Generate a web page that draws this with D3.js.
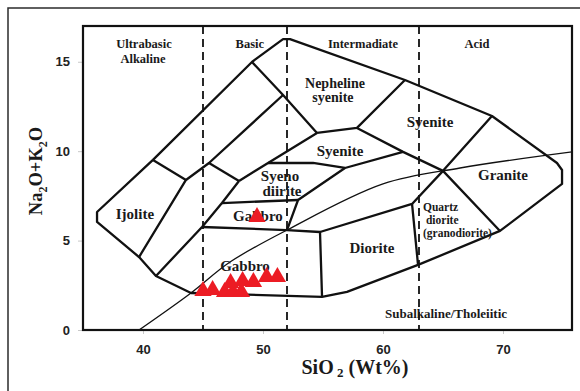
<!DOCTYPE html>
<html>
<head>
<meta charset="utf-8">
<script src="https://cdn.jsdelivr.net/npm/d3@7"></script>
<style>
  body { margin: 0; background: #fff; }
  .tick text { font-family: "Liberation Sans", Arial, sans-serif; font-weight: bold; font-size: 13px; fill: #222; }
  .tick line { stroke: #c8c8c8; }
  .lbl { font-family: "Liberation Serif", "Times New Roman", serif; font-weight: bold; fill: #1a1a1a; }
</style>
</head>
<body>
<svg id="chart" width="580" height="391"></svg>
<script>
// samples: SiO2 (wt%) and Na2O+K2O (wt%)
const sampleSiO2 = [45.0, 45.8, 46.8, 47.5, 48.2, 47.3, 48.3, 49.2, 50.3, 51.2, 49.5]
const sampleAlk  = [2.18, 2.24, 2.13, 2.13, 2.13, 2.63, 2.74, 2.68, 2.96, 2.96, 6.32]

const xTicks = [40, 50, 60, 70]
const yTicks = [0, 5, 10, 15]
const silicaDivisions = [45, 52, 63]

// outer outline of the classification fields [SiO2, alkalis]
const fieldOutline = [
  [51.67, 16.27], [52.25, 16.27], [61.83, 13.98], [69.08, 11.97], [74.5, 9.34],
  [74.92, 8.95], [74.92, 8.17], [69.75, 5.54], [62.92, 3.64], [57.0, 2.13],
  [54.92, 1.85], [44.0, 2.07], [41.08, 3.02], [39.67, 4.08], [36.17, 6.04],
  [36.17, 6.6], [40.83, 9.51], [49.08, 14.99]
]

// inner field boundaries
const fieldBoundaries = [
  [[40.83, 9.51], [43.58, 8.39], [39.67, 4.08]],
  [[43.58, 8.39], [45.5, 9.34], [51.67, 13.14]],
  [[45.5, 9.34], [48.0, 8.33]],
  [[48.0, 8.33], [46.58, 7.1], [44.92, 5.76], [41.08, 3.02]],
  [[48.0, 8.33], [50.42, 9.34], [54.5, 11.02]],
  [[49.08, 14.99], [51.67, 13.14], [54.5, 11.02]],
  [[54.5, 11.02], [57.83, 11.3], [61.83, 13.98]],
  [[57.83, 11.3], [61.67, 9.96], [65.0, 8.9], [69.75, 5.54]],
  [[50.42, 9.34], [54.17, 9.34], [56.83, 9.06], [61.67, 9.96]],
  [[56.83, 9.06], [52.92, 7.27], [52.0, 5.59]],
  [[46.58, 7.1], [52.92, 7.27]],
  [[44.92, 5.76], [52.0, 5.59], [54.75, 5.48], [54.92, 1.85]],
  [[54.75, 5.48], [62.42, 7.05], [65.0, 8.9], [69.08, 11.97]],
  [[62.42, 7.05], [62.92, 3.64]]
]

// alkaline / subalkaline divide
const alkalineLine = [[39.67, 0], [44.0, 2.07], [47.25, 3.8], [52.0, 5.59], [60.0, 8.17], [66.42, 9.06], [75.75, 9.96]]

const groupNames = ['Ultrabasic', 'Alkaline', 'Basic', 'Intermadiate', 'Acid']
const groupSiO2  = [40.08, 40.0, 48.9, 58.33, 67.83]
const groupAlk   = [15.76, 14.93, 15.76, 15.76, 15.76]

const fieldNames = ['Nepheline', 'syenite', 'Syenite', 'Syenite', 'Granite', 'Syeno', 'diirite', 'Gabbro', 'Ijolite', 'Gabbro', 'Diorite']
const fieldSiO2  = [56.0, 55.83, 63.92, 56.42, 70.0, 51.42, 51.58, 49.58, 39.33, 48.5, 59.08]
const fieldAlk   = [13.53, 12.75, 11.35, 9.73, 8.39, 8.33, 7.49, 6.1, 6.21, 3.3, 4.31]

const qdNames = ['Quartz', 'diorite', '(granodiorite)']
const qdSiO2  = [63.33, 63.58, 63.33]
const qdAlk   = [6.66, 5.93, 5.2]

const svg = d3.select('#chart')

const x = d3.scaleLinear().domain([35, 75.75]).range([83, 572])
const y = d3.scaleLinear().domain([0, 17]).range([330, 26])

// outer border
svg.append('rect')
  .attr('x', 8).attr('y', 8).attr('width', 620).attr('height', 420)
  .attr('fill', 'none').attr('stroke', '#2b2b2b').attr('stroke-width', 1.5)

svg.append('clipPath').attr('id', 'plotclip')
  .append('rect')
    .attr('x', x(35)).attr('y', y(17))
    .attr('width', x(75.75) - x(35)).attr('height', y(0) - y(17))

// axes
const yAxis = d3.axisLeft(y).tickValues(yTicks).tickSize(5).tickPadding(8)
const xAxis = d3.axisBottom(x).tickValues(xTicks).tickSize(4).tickPadding(11)

svg.append('g')
  .attr('transform', `translate(${x(35)}, 0)`)
  .call(yAxis)
  .call(g => g.select('.domain').remove())

svg.append('g')
  .attr('transform', `translate(0, ${y(0)})`)
  .call(xAxis)
  .call(g => g.select('.domain').remove())

const plot = svg.append('g').attr('clip-path', 'url(#plotclip)')

// silica divisions
plot.selectAll('.division')
  .data(silicaDivisions)
  .join('line')
    .attr('class', 'division')
    .attr('x1', d => x(d)).attr('x2', d => x(d))
    .attr('y1', y(17)).attr('y2', y(0))
    .attr('stroke', '#111').attr('stroke-width', 1.8)
    .attr('stroke-dasharray', '8,5')

const line = d3.line().x(d => x(d[0])).y(d => y(d[1]))

plot.append('path')
  .attr('d', d3.line().x(d => x(d[0])).y(d => y(d[1])).curve(d3.curveCatmullRom)(alkalineLine))
  .attr('fill', 'none').attr('stroke', '#111').attr('stroke-width', 1.3)

plot.append('path')
  .attr('d', line(fieldOutline) + 'Z')
  .attr('fill', 'none').attr('stroke', '#111').attr('stroke-width', 2.3)
  .attr('stroke-linejoin', 'round')

plot.selectAll('.boundary')
  .data(fieldBoundaries)
  .join('path')
    .attr('class', 'boundary')
    .attr('d', d => line(d))
    .attr('fill', 'none').attr('stroke', '#111').attr('stroke-width', 2.3)
    .attr('stroke-linejoin', 'round')

// plot frame
svg.append('rect')
  .attr('x', x(35)).attr('y', y(17))
  .attr('width', x(75.75) - x(35)).attr('height', y(0) - y(17))
  .attr('fill', 'none').attr('stroke', '#111').attr('stroke-width', 2.2)

// labels
svg.selectAll('.group-label')
  .data(groupNames)
  .join('text')
    .attr('class', 'lbl group-label')
    .attr('x', (d, i) => x(groupSiO2[i])).attr('y', (d, i) => y(groupAlk[i]))
    .attr('text-anchor', 'middle').attr('font-size', 12.5)
    .text(d => d)

svg.selectAll('.field-label')
  .data(fieldNames)
  .join('text')
    .attr('class', 'lbl field-label')
    .attr('x', (d, i) => x(fieldSiO2[i])).attr('y', (d, i) => y(fieldAlk[i]))
    .attr('text-anchor', 'middle').attr('font-size', (d, i) => i < 2 ? 14 : 15)
    .text(d => d)

svg.selectAll('.qd-label')
  .data(qdNames)
  .join('text')
    .attr('class', 'lbl qd-label')
    .attr('x', (d, i) => x(qdSiO2[i])).attr('y', (d, i) => y(qdAlk[i]))
    .attr('text-anchor', 'start').attr('font-size', 11.5)
    .text(d => d)

svg.append('text')
  .attr('class', 'lbl')
  .attr('x', x(65.25)).attr('y', y(0.67))
  .attr('text-anchor', 'middle').attr('font-size', 13)
  .text('Subalkaline/Tholeiitic')

// samples
svg.selectAll('.sample')
  .data(sampleSiO2)
  .join('path')
    .attr('class', 'sample')
    .attr('transform', (d, i) => `translate(${x(d)}, ${y(sampleAlk[i])})`)
    .attr('d', d3.symbol(d3.symbolTriangle, 130))
    .attr('fill', '#ec1c24')

// axis titles
const xTitle = svg.append('text')
  .attr('class', 'lbl')
  .attr('x', 355).attr('y', 374)
  .attr('text-anchor', 'middle').attr('font-size', 20)
xTitle.append('tspan').text('SiO')
xTitle.append('tspan').attr('font-size', 13).attr('dy', 3).text(' 2')
xTitle.append('tspan').attr('dy', -3).text(' (Wt%)')

const yTitle = svg.append('text')
  .attr('class', 'lbl')
  .attr('transform', 'translate(42, 171) rotate(-90)')
  .attr('text-anchor', 'middle').attr('font-size', 18.5)
yTitle.append('tspan').text('Na')
yTitle.append('tspan').attr('font-size', 12).attr('dy', 5).text('2')
yTitle.append('tspan').attr('dy', -5).text('O+K')
yTitle.append('tspan').attr('font-size', 12).attr('dy', 5).text('2')
yTitle.append('tspan').attr('dy', -5).text('O')
</script>
</body>
</html>
